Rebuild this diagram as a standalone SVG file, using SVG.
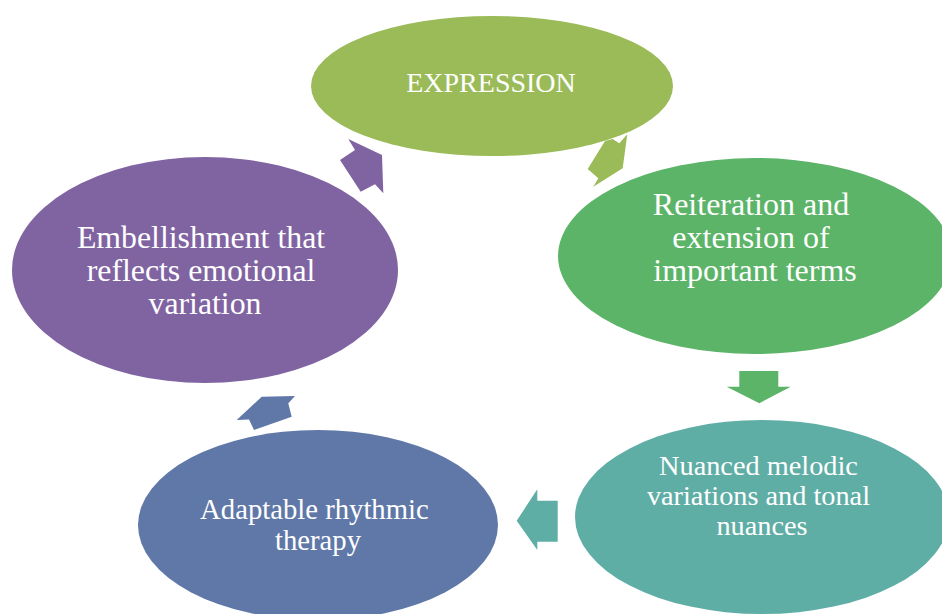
<svg xmlns="http://www.w3.org/2000/svg" width="942" height="614" viewBox="0 0 942 614">
  <style>
    .lbl { font-family: "Liberation Serif", "Times New Roman", serif; fill: #ffffff; text-anchor: middle; }
    .c1 { fill: #9BBB59; }
    .c2 { fill: #5CB468; }
    .c3 { fill: #5FAEA6; }
    .c4 { fill: #5F78A8; }
    .c5 { fill: #8064A2; }
  </style>
  <rect width="942" height="614" fill="#ffffff"/>

  <!-- cycle arrows -->
  <g id="connectors">
    <polygon class="c1" points="627.3,134.3 622.7,168.3 593.3,186.7 598.3,178.3 587.7,169 605,141 612.7,139 619.3,143.3"/>
    <polygon class="c2" points="739.3,371 778.3,371 778.3,386.7 790.7,386.7 759.3,403.3 726.7,386.7 739.3,386.7"/>
    <polygon class="c3" points="557.7,500.7 557.7,541.7 537.3,541.7 537.3,550 516.7,520.7 537.3,489.3 537.3,500.7"/>
    <polygon class="c4" points="236.7,420 261.7,396.7 295,396 288.3,403.3 291.7,416.7 254,430 249,419.5"/>
    <polygon class="c5" points="348.3,139 382,155 383.3,193.3 375,184.3 360.7,191.7 340,160 355,150"/>
  </g>

  <g id="node-expression">
    <ellipse class="c1" cx="492" cy="86" rx="181" ry="70"/>
    <text class="lbl" x="491" y="92" font-size="28">EXPRESSION</text>
  </g>

  <g id="node-reiteration">
    <ellipse class="c2" cx="755" cy="256" rx="197" ry="98"/>
    <text class="lbl" font-size="32">
      <tspan x="755" y="215">Reiteration and</tspan>
      <tspan x="755" y="248">extension of</tspan>
      <tspan x="755" y="281">important terms</tspan>
    </text>
  </g>

  <g id="node-nuanced">
    <ellipse class="c3" cx="762" cy="517" rx="187" ry="97"/>
    <text class="lbl" font-size="28.3">
      <tspan x="762" y="475">Nuanced melodic</tspan>
      <tspan x="762" y="505">variations and tonal</tspan>
      <tspan x="762" y="535">nuances</tspan>
    </text>
  </g>

  <g id="node-adaptable">
    <ellipse class="c4" cx="318" cy="525" rx="180" ry="95"/>
    <text class="lbl" font-size="28.7">
      <tspan x="318" y="519">Adaptable rhythmic</tspan>
      <tspan x="318" y="550">therapy</tspan>
    </text>
  </g>

  <g id="node-embellishment">
    <ellipse class="c5" cx="205" cy="270" rx="193" ry="113"/>
    <text class="lbl" font-size="31.8">
      <tspan x="205" y="248">Embellishment that</tspan>
      <tspan x="205" y="281">reflects emotional</tspan>
      <tspan x="205" y="314">variation</tspan>
    </text>
  </g>
</svg>
